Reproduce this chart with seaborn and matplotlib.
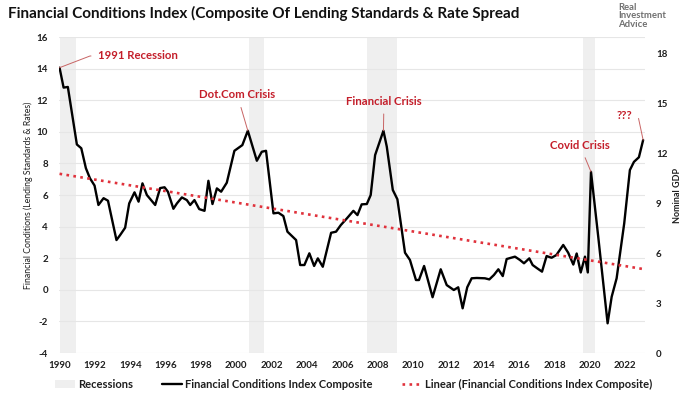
import numpy as np
import matplotlib as mpl
import matplotlib.pyplot as plt
from matplotlib.patches import Patch
from matplotlib.lines import Line2D
import seaborn as sns

# ---- data ----
fci_year = [1990.0, 1990.23, 1990.47, 1990.98, 1991.23, 1991.49, 1991.72, 1991.98,
            1992.2, 1992.49, 1992.74, 1993.22, 1993.43, 1993.71, 1993.94, 1994.24,
            1994.47, 1994.69, 1994.94, 1995.41, 1995.69, 1995.94, 1996.13, 1996.44,
            1996.64, 1996.92, 1997.2, 1997.39, 1997.63, 1997.9, 1998.2, 1998.42,
            1998.65, 1998.9, 1999.14, 1999.46, 1999.89, 2000.34, 2000.65, 2001.16,
            2001.44, 2001.68, 2002.1, 2002.38, 2002.66, 2002.89, 2003.14, 2003.38,
            2003.61, 2003.85, 2004.13, 2004.4, 2004.61, 2004.89, 2005.36, 2005.64,
            2005.91, 2006.25, 2006.62, 2006.85, 2007.09, 2007.38, 2007.6, 2007.85,
            2008.32, 2008.51, 2008.85, 2009.11, 2009.54, 2009.82, 2010.16, 2010.33,
            2010.62, 2011.1, 2011.56, 2011.9, 2012.3, 2012.55, 2012.8, 2013.06,
            2013.31, 2013.6, 2014.06, 2014.31, 2014.57, 2014.82, 2015.07, 2015.29,
            2015.76, 2016.04, 2016.27, 2016.57, 2016.76, 2017.02, 2017.29, 2017.55,
            2017.83, 2018.1, 2018.49, 2018.77, 2019.06, 2019.25, 2019.48, 2019.72,
            2019.88, 2020.06, 2020.47, 2021.0, 2021.23, 2021.51, 2021.94, 2022.26,
            2022.49, 2022.77, 2023.01]
fci_value = [14.06, 12.8, 12.84, 9.2, 8.96, 7.7, 7.06, 6.6,
             5.37, 5.8, 5.64, 3.15, 3.47, 3.93, 5.47, 6.17,
             5.58, 6.74, 6.0, 5.37, 6.44, 6.49, 6.21, 5.13,
             5.47, 5.85, 5.68, 5.37, 5.68, 5.11, 5.0, 6.9,
             5.43, 6.42, 6.21, 6.78, 8.8, 9.16, 10.07, 8.17,
             8.74, 8.8, 4.84, 4.88, 4.67, 3.68, 3.41, 3.15,
             1.57, 1.57, 2.31, 1.51, 1.99, 1.46, 3.61, 3.68,
             4.1, 4.52, 5.0, 4.73, 5.41, 5.43, 6.0, 8.53,
             10.07, 9.06, 6.32, 5.73, 2.35, 1.89, 0.62, 0.62,
             1.51, -0.47, 1.3, 0.3, -0.01, 0.16, -1.17, 0.16,
             0.73, 0.75, 0.73, 0.66, 0.94, 1.3, 0.87, 1.95,
             2.1, 1.89, 1.68, 1.99, 1.57, 1.36, 1.15, 2.14,
             2.03, 2.2, 2.84, 2.35, 1.6, 2.3, 1.1, 2.1,
             1.1, 7.47, 3.36, -2.12, -0.44, 0.73, 4.21, 7.58,
             8.1, 8.39, 9.48]

rec_start = [1990.0, 2000.72, 2007.38, 2019.59]
rec_end = [1990.95, 2001.57, 2009.07, 2020.28]

year_ticks = list(range(1990, 2023, 2))
left_ticks = list(range(-4, 17, 2))
right_ticks = list(range(0, 19, 3))

events = ['1991 Recession', 'Dot.Com Crisis', 'Financial Crisis', 'Covid Crisis', '???']
event_x = [1990.0, 2000.65, 2008.32, 2020.06, 2023.01]
event_y = [14.06, 10.07, 10.07, 7.47, 9.48]
label_x = [1992.2, 2000.05, 2008.35, 2019.43, 2021.98]
label_y = [14.8, 12.35, 11.95, 9.16, 11.06]

# ---- style ----
sns.set_theme(style='white')
plt.rcParams['font.family'] = ['Lato', 'DejaVu Sans']
red_txt = '#C41E2A'
red_dot = '#E0323C'
shade = '#EFEFEF'
txt_col = '#1e1e1e'

fig = plt.figure(figsize=(7.0, 3.94), dpi=100)
ax = fig.add_axes([0.0843, 0.104, 0.837, 0.802])

for s, e in zip(rec_start, rec_end):
    ax.axvspan(s, e, color=shade, lw=0, zorder=0)

for t in left_ticks:
    ax.axhline(t, color='#E6E6E6', lw=0.8, zorder=0.5)

sns.lineplot(x=fci_year, y=fci_value, ax=ax, color='black', lw=1.7, zorder=3)
sns.regplot(x=fci_year, y=fci_value, ax=ax, scatter=False, ci=None,
            line_kws=dict(color=red_dot, lw=1.9, ls=':', zorder=4))

ax.set_xlim(1989.97, 2023.11)
ax.set_ylim(-4, 16)
ax.set_xticks(year_ticks)
ax.set_xticklabels([str(y) for y in year_ticks], fontsize=7, fontweight='bold', color=txt_col)
ax.set_yticks(left_ticks)
ax.set_yticklabels([str(v) for v in left_ticks], fontsize=7, fontweight='bold', color=txt_col)
ax.tick_params(axis='x', length=0, pad=6)
ax.tick_params(axis='y', length=0, pad=8)
ax.set_xlabel('')
ax.set_ylabel('Financial Conditions (Lending Standards & Rates)', fontsize=6.3,
              color=txt_col)
ax.yaxis.set_label_coords(-0.045, 0.5)
for sp in ax.spines.values():
    sp.set_visible(False)

ax2 = ax.twinx()
ax2.set_ylim(0, 19.02)
ax2.set_yticks(right_ticks)
ax2.set_yticklabels([str(v) for v in right_ticks], fontsize=7, fontweight='bold', color=txt_col)
ax2.tick_params(length=0, pad=8)
ax2.set_ylabel('Nominal GDP', fontsize=6.5, fontweight='bold', color=txt_col, labelpad=4)
ax2.grid(False)
for sp in ax2.spines.values():
    sp.set_visible(False)

# annotations
styles = ['angle,angleA=0,angleB=21,rad=0', 'arc3', 'arc3',
          'arc3', 'angle,angleA=0,angleB=102,rad=0']
relpos = [(0, 0.5), (0.5, 0.5), (0.5, 0.5), (0.5, 0.5), (1, 0.5)]
has = ['left', 'center', 'center', 'center', 'center']
for name, px, py, lx, ly, cs, rp, ha in zip(events, event_x, event_y, label_x, label_y,
                                            styles, relpos, has):
    ax.annotate(name, xy=(px, py), xytext=(lx, ly), ha=ha, va='center',
                fontsize=8.2, fontweight='bold', color=red_txt, zorder=6,
                arrowprops=dict(arrowstyle='-', color='#C86464', lw=0.7,
                                connectionstyle=cs, relpos=rp, shrinkA=3, shrinkB=0))

fig.text(0.011, 0.967, 'Financial Conditions Index (Composite Of Lending Standards & Rate Spread',
         fontsize=11, fontweight='bold', color='#111111', va='center', ha='left')
fig.text(0.883, 0.96, 'Real\nInvestment\nAdvice', fontsize=6.8, fontweight='bold',
         color='#707070', va='center', ha='left', linespacing=0.95)

handles = [Patch(facecolor=shade, edgecolor='none'),
           Line2D([], [], color='black', lw=1.7),
           Line2D([], [], color=red_dot, lw=1.9, ls=':')]
labels = ['Recessions', 'Financial Conditions Index Composite',
          'Linear (Financial Conditions Index Composite)']
leg = fig.legend(handles, labels, loc='center', bbox_to_anchor=(0.505, 0.025), ncol=3,
                 frameon=False, fontsize=8, handlelength=1.8, handletextpad=0.3,
                 columnspacing=2.6)
for t in leg.get_texts():
    t.set_fontweight('bold')
    t.set_color(txt_col)

fig.savefig('out.png', dpi=100)
